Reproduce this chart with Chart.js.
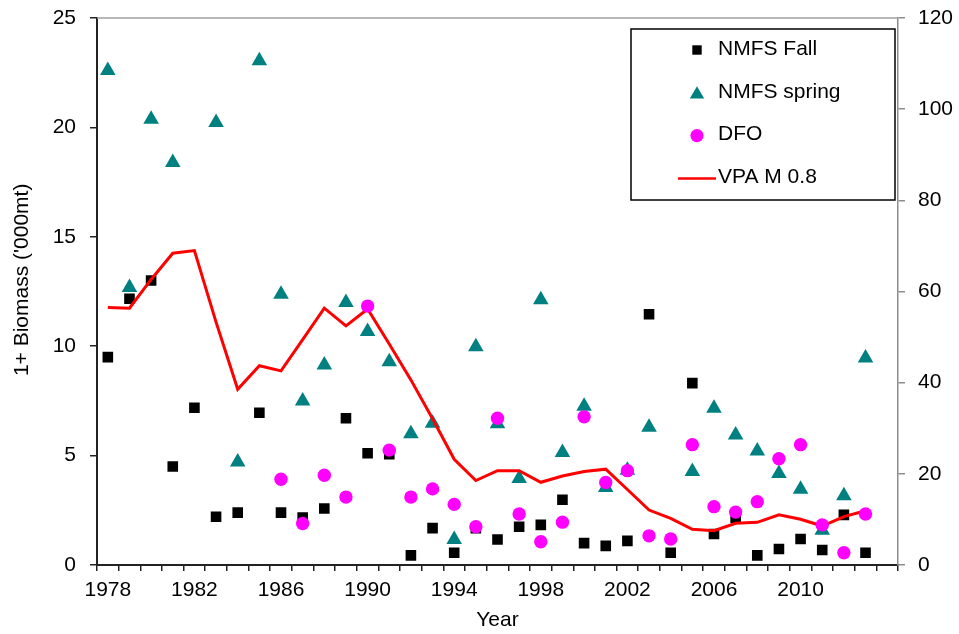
<!DOCTYPE html>
<html>
<head>
<meta charset="utf-8">
<script src="https://cdn.jsdelivr.net/npm/chart.js@4/dist/chart.umd.min.js"></script>
<style>
  html, body { margin: 0; padding: 0; background: #fff; }
  #wrap { width: 959px; height: 634px; }
</style>
</head>
<body>
<div id="wrap"><canvas id="chart" width="959" height="634"></canvas></div>
<script>
// Category slots along the year axis (the last slot has no data)
const years = [1978, 1979, 1980, 1981, 1982, 1983, 1984, 1985, 1986, 1987, 1988, 1989,
  1990, 1991, 1992, 1993, 1994, 1995, 1996, 1997, 1998, 1999, 2000, 2001, 2002, 2003,
  2004, 2005, 2006, 2007, 2008, 2009, 2010, 2011, 2012, 2013, 2014];
const yearTicks = [1978, 1982, 1986, 1990, 1994, 1998, 2002, 2006, 2010];

// Survey indices (right axis)
const nmfsFall = [45.6, 58.4, 62.4, 21.6, 34.5, 10.6, 11.5, 33.4, 11.5, 10.4, 12.4, 32.2,
  24.5, 24.3, 2.1, 8.1, 2.7, 8.1, 5.6, 8.4, 8.8, 14.3, 4.8, 4.2, 5.3, 55.0,
  2.7, 39.9, 6.8, 10.4, 2.1, 3.5, 5.7, 3.3, 11.0, 2.7];
const nmfsSpring = [108.5, 60.9, 97.8, 88.3, null, 97.1, 22.6, 110.6, 59.4, 36.0, 43.9, 57.6,
  51.2, 44.6, 28.8, 31.1, 5.6, 47.9, 31.0, 19.0, 58.2, 24.7, 34.8, 17.0, 20.8, 30.2,
  null, 20.5, 34.4, 28.5, 25.0, 20.1, 16.6, 7.6, 15.2, 45.4];
const dfo = [null, null, null, null, null, null, null, null, 18.8, 9.1, 19.7, 14.9,
  56.8, 25.2, 14.9, 16.7, 13.3, 8.4, 32.2, 11.2, 5.1, 9.4, 32.5, 18.1, 20.7, 6.4,
  5.7, 26.4, 12.8, 11.6, 13.9, 23.3, 26.4, 8.8, 2.7, 11.2];

// 1+ biomass ('000 mt), left axis
const vpa = [11.77, 11.74, 13.05, 14.25, 14.37, 11.1, 8.03, 9.11, 8.87, 10.3, 11.74, 10.93,
  11.7, 10.1, 8.46, 6.68, 4.83, 3.86, 4.31, 4.31, 3.78, 4.07, 4.27, 4.38, 3.45, 2.51,
  2.13, 1.63, 1.57, 1.91, 1.95, 2.29, 2.09, 1.78, 2.21, 2.48];

const FONT = '"Liberation Sans", Arial, Helvetica, sans-serif';
Chart.defaults.font.family = FONT;
Chart.defaults.font.size = 21;
Chart.defaults.color = '#000';

// Top frame line of the plot area
const topFrame = {
  id: 'topFrame',
  afterDraw(chart) {
    const { ctx, chartArea: a } = chart;
    ctx.save();
    ctx.strokeStyle = '#a0a0a0';
    ctx.lineWidth = 1.5;
    ctx.beginPath();
    ctx.moveTo(a.left, a.top);
    ctx.lineTo(a.right, a.top);
    ctx.stroke();
    ctx.restore();
  }
};

// Boxed legend inside the upper-right corner of the plot area
const boxLegend = {
  id: 'boxLegend',
  afterDraw(chart) {
    const { ctx, chartArea: a } = chart;
    const x0 = a.right - 267, y0 = a.top + 11, w = 264, h = 171;
    ctx.save();
    ctx.fillStyle = '#fff';
    ctx.fillRect(x0, y0, w, h);
    ctx.strokeStyle = '#000';
    ctx.lineWidth = 1.5;
    ctx.strokeRect(x0, y0, w, h);
    const markX = x0 + 66, textX = x0 + 87;
    chart.data.datasets.forEach((ds, row) => {
      const cy = y0 + 21 + row * 42.8;
      ctx.fillStyle = ds.backgroundColor;
      if (ds.legendMark === 'rect') {
        ctx.fillRect(markX - 4.7, cy - 4.7, 9.4, 9.4);
      } else if (ds.legendMark === 'triangle') {
        const r = 8.3;
        ctx.beginPath();
        ctx.moveTo(markX, cy - r * 0.8);
        ctx.lineTo(markX + r * 0.866, cy + r * 0.7);
        ctx.lineTo(markX - r * 0.866, cy + r * 0.7);
        ctx.closePath();
        ctx.fill();
      } else if (ds.legendMark === 'circle') {
        ctx.beginPath();
        ctx.arc(markX, cy, 6.6, 0, Math.PI * 2);
        ctx.fill();
      } else {
        ctx.strokeStyle = ds.borderColor;
        ctx.lineWidth = 2.5;
        ctx.beginPath();
        ctx.moveTo(markX - 19, cy);
        ctx.lineTo(markX + 19, cy);
        ctx.stroke();
      }
      ctx.fillStyle = '#000';
      ctx.font = '21px ' + FONT;
      ctx.textAlign = 'left';
      ctx.textBaseline = 'middle';
      ctx.fillText(ds.label, textX, cy - 1);
    });
    ctx.restore();
  }
};

// Fixed axis box sizes, without extra label overhang padding
function fixBox(size) {
  return function (scale) {
    if (scale.isHorizontal()) {
      scale.height = size;
      scale.paddingLeft = 0;
      scale.paddingRight = 0;
    } else {
      scale.width = size;
      scale.paddingTop = 0;
      scale.paddingBottom = 0;
    }
  };
}

new Chart(document.getElementById('chart'), {
  type: 'line',
  data: {
    labels: years,
    datasets: [
      {
        label: 'NMFS Fall', data: nmfsFall, yAxisID: 'y2', showLine: false,
        pointStyle: 'rect', pointRadius: 7.5, pointBorderWidth: 0,
        backgroundColor: '#000000', borderColor: '#000000', legendMark: 'rect', order: 3
      },
      {
        label: 'NMFS spring', data: nmfsSpring, yAxisID: 'y2', showLine: false,
        pointStyle: 'triangle', pointRadius: 9, pointBorderWidth: 0,
        backgroundColor: '#008080', borderColor: '#008080', legendMark: 'triangle', order: 2
      },
      {
        label: 'DFO', data: dfo, yAxisID: 'y2', showLine: false,
        pointStyle: 'circle', pointRadius: 6.7, pointBorderWidth: 0,
        backgroundColor: '#ff00ff', borderColor: '#ff00ff', legendMark: 'circle', order: 0
      },
      {
        label: 'VPA M 0.8', data: vpa, yAxisID: 'y', pointRadius: 0,
        borderColor: '#ff0000', backgroundColor: '#ff0000', borderWidth: 3,
        tension: 0, fill: false, legendMark: 'line', order: 1
      }
    ]
  },
  options: {
    responsive: false,
    animation: false,
    layout: { padding: { top: 18, left: 0, right: 0, bottom: 0 } },
    plugins: { legend: { display: false }, tooltip: { enabled: false } },
    scales: {
      x: {
        type: 'category',
        offset: true,
        grid: { offset: true, drawOnChartArea: false, drawTicks: true, tickLength: 6, color: '#222', lineWidth: 1.5 },
        border: { display: true, color: '#222', width: 2 },
        ticks: {
          autoSkip: false, maxRotation: 0, minRotation: 0, padding: 7,
          callback(value, index) {
            const yr = years[index];
            return yearTicks.includes(yr) ? String(yr) : '';
          }
        },
        title: { display: true, text: 'Year', padding: { top: 0, bottom: 1 } },
        afterFit: fixBox(69)
      },
      y: {
        position: 'left',
        min: 0, max: 25,
        ticks: { stepSize: 5, padding: 14 },
        grid: { drawOnChartArea: false, drawTicks: true, tickLength: 7, color: '#222', lineWidth: 1.5 },
        border: { display: true, color: '#222', width: 2 },
        title: { display: true, text: "    1+ Biomass ('000mt)", padding: { top: 10, bottom: 0 } },
        afterFit: fixBox(97)
      },
      y2: {
        position: 'right',
        min: 0, max: 120,
        ticks: { stepSize: 20, padding: 13 },
        grid: { drawOnChartArea: false, drawTicks: true, tickLength: 7, color: '#8c8c8c', lineWidth: 1.5 },
        border: { display: true, color: '#8c8c8c', width: 1.5 },
        afterFit: fixBox(61)
      }
    }
  },
  plugins: [topFrame, boxLegend]
});
</script>
</body>
</html>
